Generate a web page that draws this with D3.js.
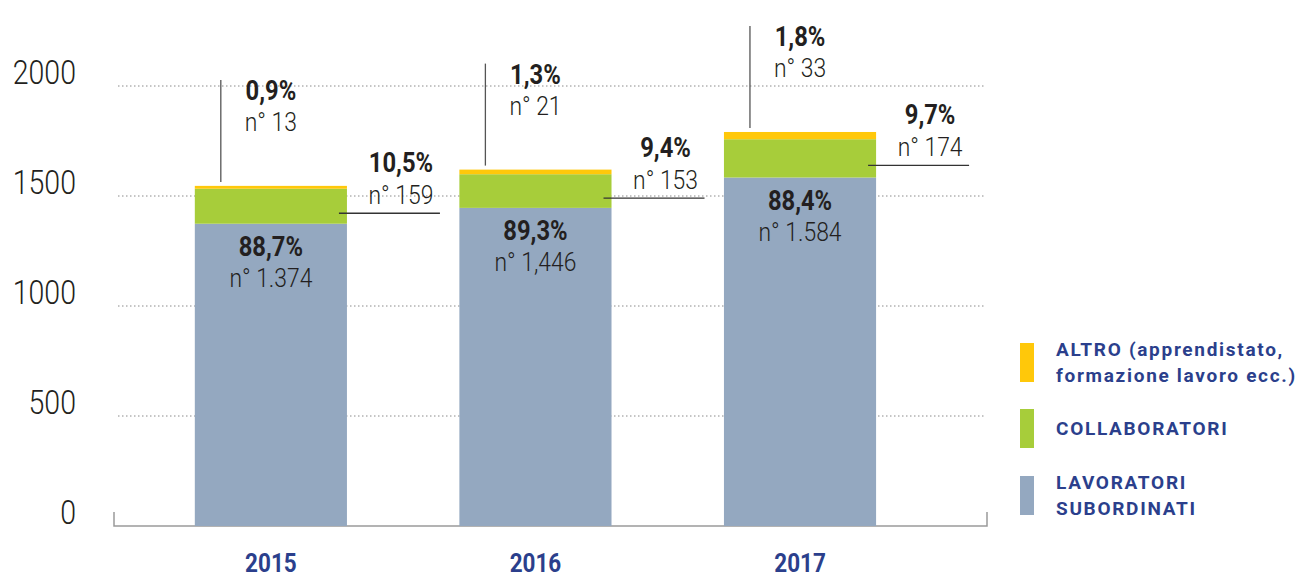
<!DOCTYPE html>
<html>
<head>
<meta charset="utf-8">
<script src="https://cdn.jsdelivr.net/npm/d3@7"></script>
<style>
  body { margin: 0; background: #fff; }
  text { font-family: Roboto, "Open Sans", sans-serif; fill: #231f20; }
  .tick-label { font-size: 34px; font-weight: 300; }
  .pct { font-size: 27px; font-weight: 700; }
  .num { font-size: 26px; font-weight: 300; }
  .year { font-size: 25px; font-weight: 700; fill: #2b3f8c; }
  .legend { font-size: 19px; font-weight: 700; fill: #2b3f8c; letter-spacing: 1.7px; }
</style>
</head>
<body>
<svg id="chart" width="1306" height="579"></svg>
<script>
// Data
var years = ["2015", "2016", "2017"];
var subordinati = [1374, 1446, 1584];
var collaboratori = [159, 153, 174];
var altro = [13, 21, 33];

var pctSubordinati = ["88,7%", "89,3%", "88,4%"];
var pctCollaboratori = ["10,5%", "9,4%", "9,7%"];
var pctAltro = ["0,9%", "1,3%", "1,8%"];

var numSubordinati = ["n° 1.374", "n° 1,446", "n° 1.584"];
var numCollaboratori = ["n° 159", "n° 153", "n° 174"];
var numAltro = ["n° 13", "n° 21", "n° 33"];

var yTicks = [0, 500, 1000, 1500, 2000];

var legendItems = [
  { lines: ["ALTRO (apprendistato,", "formazione lavoro ecc.)"], color: "#ffc80a" },
  { lines: ["COLLABORATORI"], color: "#a7cd3a" },
  { lines: ["LAVORATORI", "SUBORDINATI"], color: "#94a8c0" }
];

var colors = { sub: "#94a8c0", coll: "#a7cd3a", alt: "#ffc80a" };

var svg = d3.select("#chart");

// Scales
var x = d3.scaleBand()
  .domain(years)
  .range([114, 990])
  .paddingInner(0.425)
  .paddingOuter(0.368)
  .align(0.415);

var y = d3.scaleLinear()
  .domain([0, 2000])
  .range([526, 86]);

// condensed look: squeeze text horizontally
function txt(g, cx, cy, str, cls, sx) {
  sx = sx || 0.88;
  return g.append("text")
    .attr("class", cls)
    .attr("transform", "translate(" + cx + "," + cy + ") scale(" + sx + ",1)")
    .attr("text-anchor", "middle")
    .attr("dy", "0.35em")
    .text(str);
}

/////////// Grid + axis ///////////

svg.append("g").selectAll("line")
  .data(yTicks.filter(function(d) { return d > 0; }))
  .enter().append("line")
    .attr("x1", 118).attr("x2", 985)
    .attr("y1", function(d) { return y(d); })
    .attr("y2", function(d) { return y(d); })
    .attr("stroke", "#8a8a8a")
    .attr("stroke-width", 1)
    .attr("stroke-dasharray", "1.5,2.5");

yTicks.forEach(function(d) {
  svg.append("text")
    .attr("class", "tick-label")
    .attr("text-anchor", "end")
    .attr("transform", "translate(76," + (y(d) - 14) + ") scale(0.84,1)")
    .attr("dy", "0.35em")
    .text(d);
});

svg.append("path")
  .attr("d", "M114,512V526H987V512")
  .attr("fill", "none")
  .attr("stroke", "#9a9a9a")
  .attr("stroke-width", 1.5);

/////////// Bars ///////////

var bars = svg.append("g");
years.forEach(function(yr, i) {
  var x0 = x(yr), w = x.bandwidth();
  var s = subordinati[i], c = collaboratori[i], a = altro[i];
  bars.append("rect").attr("x", x0).attr("width", w)
    .attr("y", y(s)).attr("height", y(0) - y(s)).attr("fill", colors.sub);
  bars.append("rect").attr("x", x0).attr("width", w)
    .attr("y", y(s + c)).attr("height", y(s) - y(s + c)).attr("fill", colors.coll);
  bars.append("rect").attr("x", x0).attr("width", w)
    .attr("y", y(s + c + a)).attr("height", y(s + c) - y(s + c + a)).attr("fill", colors.alt);
});

/////////// Labels ///////////

var labels = svg.append("g");
years.forEach(function(yr, i) {
  var x0 = x(yr), w = x.bandwidth(), cx = x0 + w / 2;
  var s = subordinati[i], c = collaboratori[i], a = altro[i];

  // subordinati inside the bar
  var subTop = y(s);
  txt(labels, cx, subTop + 23, pctSubordinati[i], "pct");
  txt(labels, cx, subTop + 54, numSubordinati[i], "num");

  // collaboratori to the right with leader
  var ly = (y(s) + y(s + c)) / 2 + 7;
  labels.append("line")
    .attr("x1", x0 + w - 8).attr("x2", x0 + w + 93)
    .attr("y1", ly).attr("y2", ly)
    .attr("stroke", "#333").attr("stroke-width", 1.3);
  txt(labels, x0 + w + 54, ly - 51, pctCollaboratori[i], "pct");
  txt(labels, x0 + w + 54, ly - 18, numCollaboratori[i], "num");

  // altro above with vertical leader
  var top = y(s + c + a);
  labels.append("line")
    .attr("x1", x0 + 26).attr("x2", x0 + 26)
    .attr("y1", top - 4).attr("y2", top - 106)
    .attr("stroke", "#555").attr("stroke-width", 1.3);
  txt(labels, cx, top - 95, pctAltro[i], "pct");
  txt(labels, cx, top - 64, numAltro[i], "num");

  // year
  txt(labels, cx, 563, yr, "year", 0.9);
});

/////////// Legend ///////////

var legendTop = [343, 409, 476];
var lg = svg.append("g");
legendItems.forEach(function(item, i) {
  lg.append("rect")
    .attr("x", 1020).attr("y", legendTop[i])
    .attr("width", 14).attr("height", 39)
    .attr("fill", item.color);
  var mid = legendTop[i] + 19.5;
  var n = item.lines.length;
  item.lines.forEach(function(line, j) {
    lg.append("text")
      .attr("class", "legend")
      .attr("x", 1056)
      .attr("y", mid + (j - (n - 1) / 2) * 26)
      .attr("dy", "0.35em")
      .text(line);
  });
});
</script>
</body>
</html>
